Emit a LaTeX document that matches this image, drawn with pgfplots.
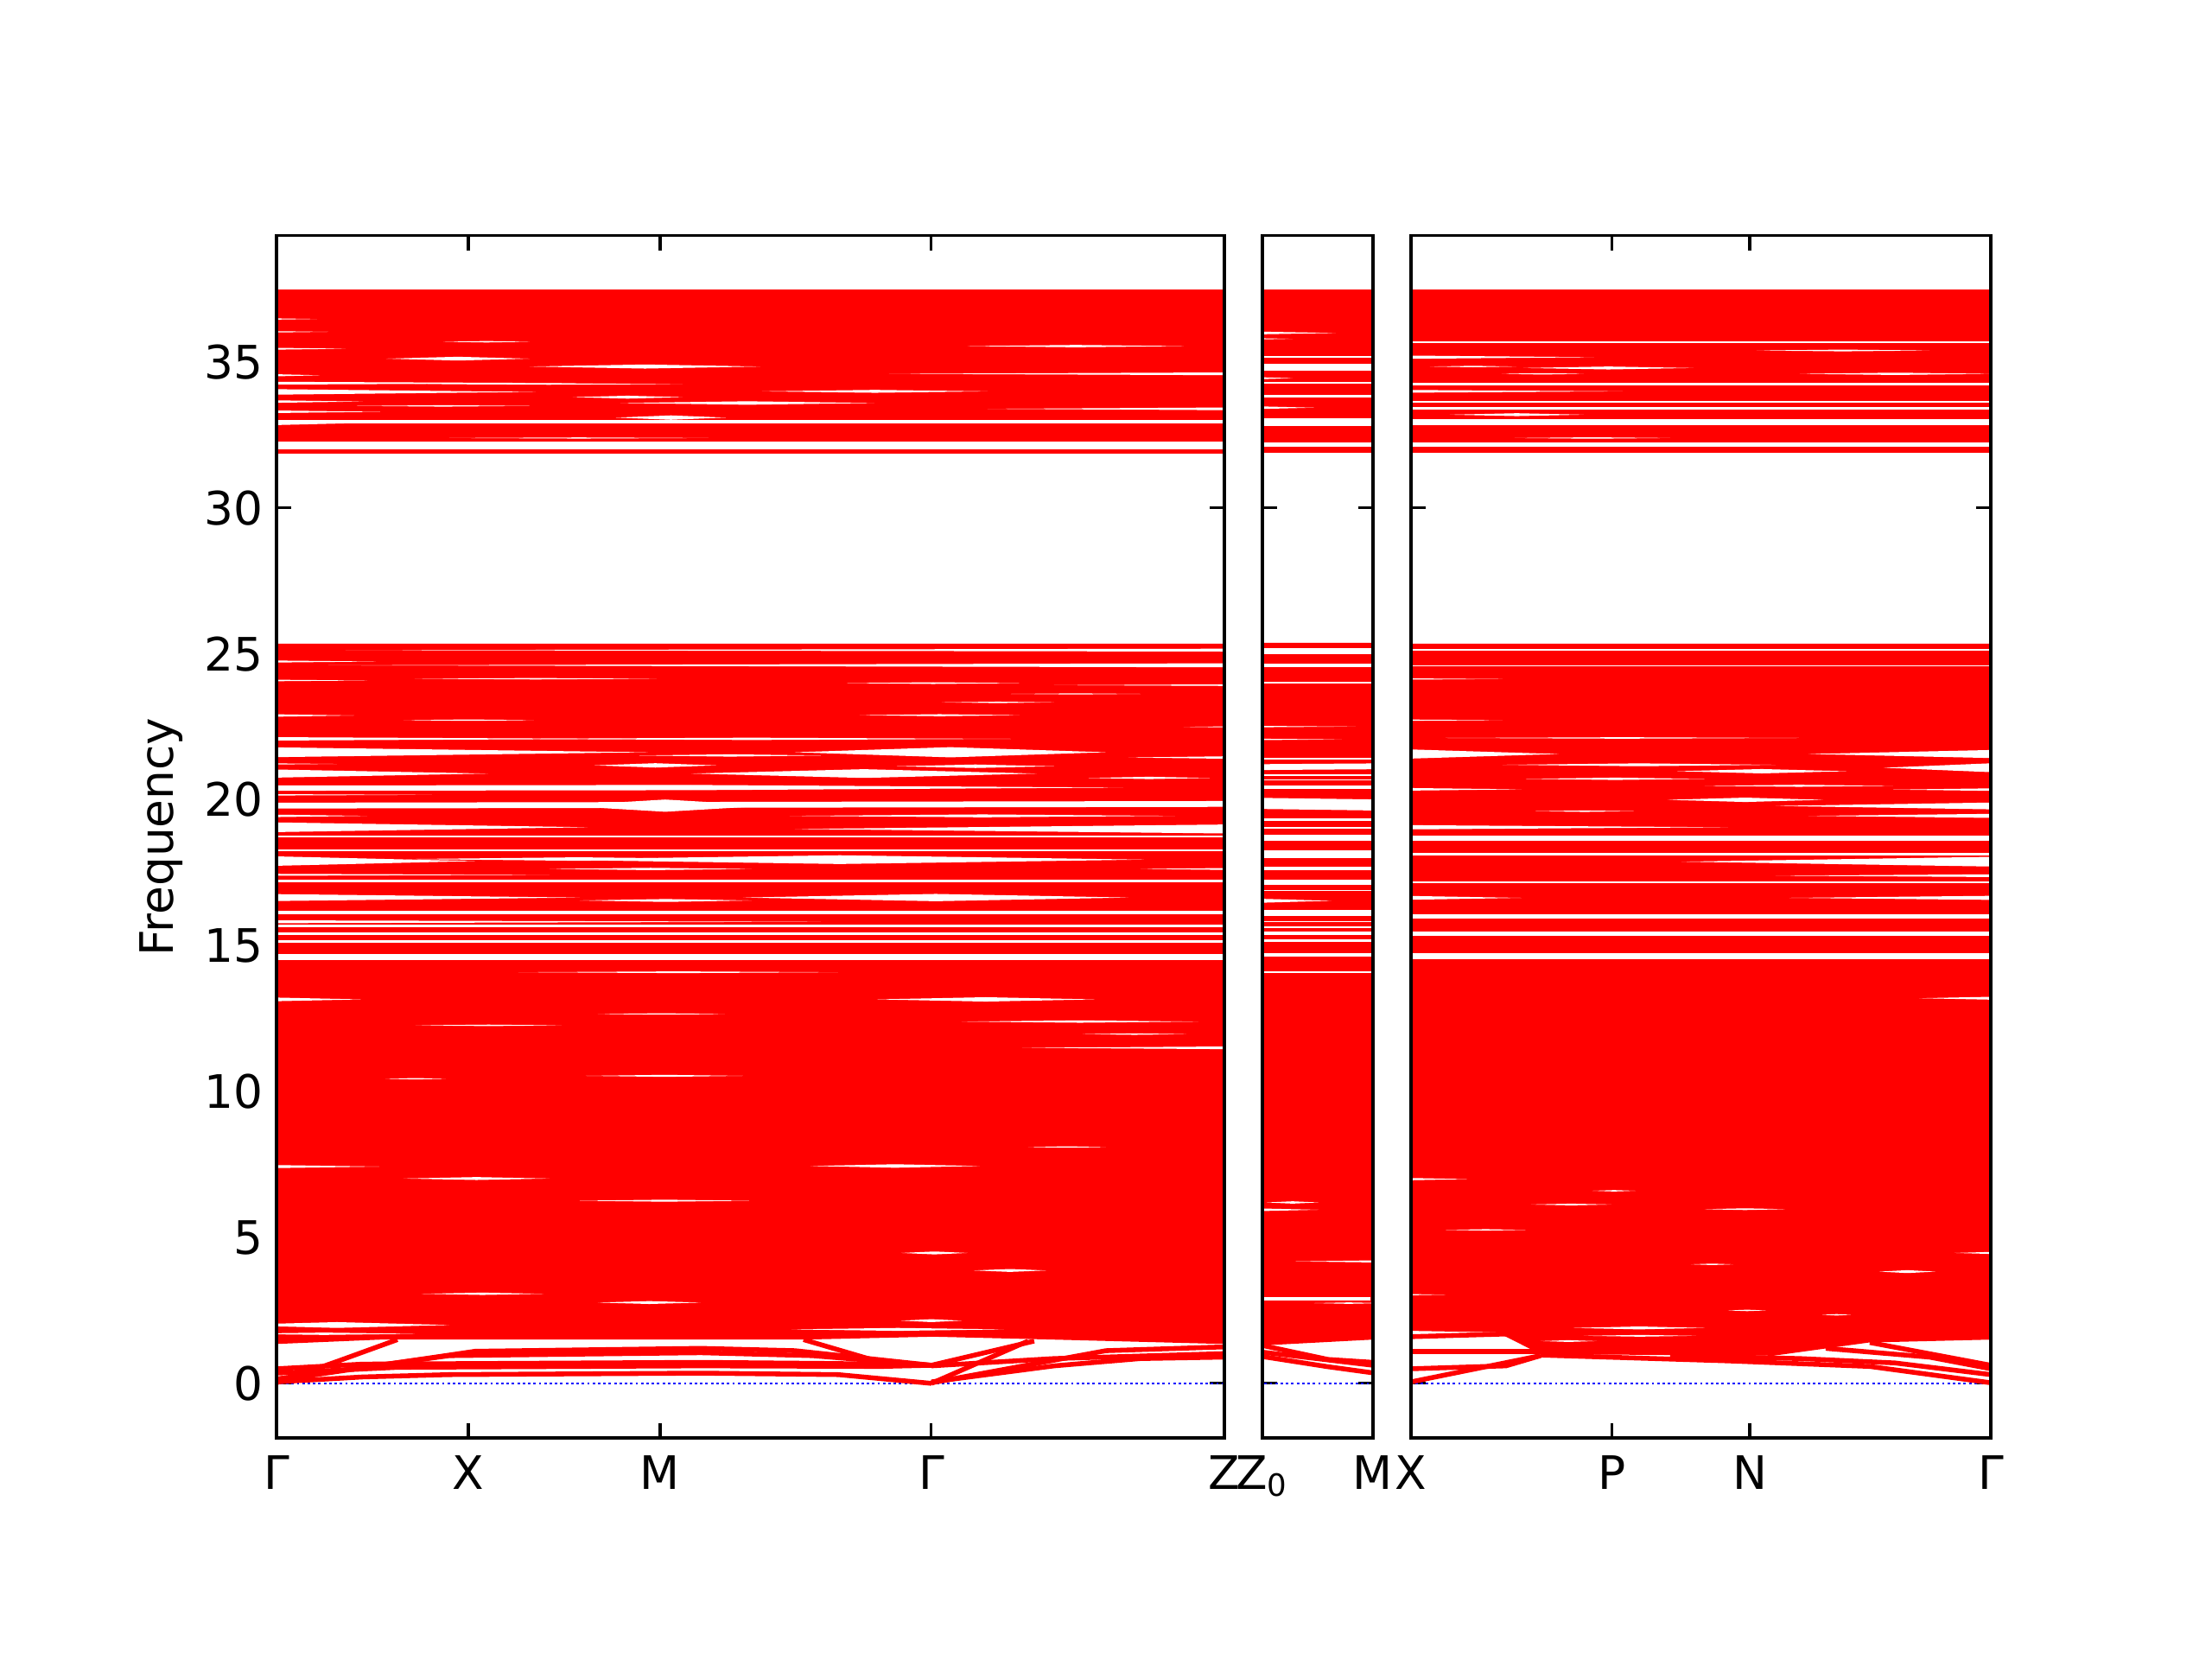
\documentclass[border=0pt]{standalone}
\usepackage{fontspec}
\setmainfont{DejaVu Sans}
\usepackage{pgfplots}
\pgfplotsset{compat=1.18}

% lens shaped white gap between bundles of bands: x from #1 to #2, at f=#3, widest #4
\newcommand\bgap[4]{%
  \pgfmathsetmacro\gxm{(#1+#2)/2}%
  \pgfmathsetmacro\gfl{#3-#4/2}%
  \pgfmathsetmacro\gfh{#3+#4/2}%
  \edef\tmp{\noexpand\addplot[gapfill] coordinates {(#1,#3) (\gxm,\gfh) (#2,#3) (\gxm,\gfl)};}\tmp}
% gap open at x=#1 (width #4), closing at x=#2
\newcommand\tgap[4]{%
  \pgfmathsetmacro\gfl{#3-#4/2}%
  \pgfmathsetmacro\gfh{#3+#4/2}%
  \edef\tmp{\noexpand\addplot[gapfill] coordinates {(#1,\gfl) (#2,#3) (#1,\gfh)};}\tmp}
% straight gap from (#1,#3) to (#2,#4), width #5
\newcommand\sgap[5]{%
  \pgfmathsetmacro\gfl{#3-#5/2}%
  \pgfmathsetmacro\gfh{#3+#5/2}%
  \pgfmathsetmacro\gfL{#4-#5/2}%
  \pgfmathsetmacro\gfH{#4+#5/2}%
  \edef\tmp{\noexpand\addplot[gapfill] coordinates {(#1,\gfl) (#2,\gfL) (#2,\gfH) (#1,\gfh)};}\tmp}

\pgfplotsset{
  bandpanel/.style={
    scale only axis, height=313pt, anchor=south west,
    ymin=-1.87, ymax=39.33, ytick={0,5,...,35},
    tick align=inside, major tick length=3.8pt,
    every tick/.style={black, line width=0.7pt},
    axis line style={line width=0.72pt},
    tick label style={font=\fontsize{12}{14}\selectfont},
    label style={font=\fontsize{12}{14}\selectfont},
    /pgf/number format/assume math mode=true,
    xticklabel style={yshift=-1.2pt},
  },
  blk/.style={fill=red, draw=none},
  gapfill/.style={fill=white, draw=none},
  bl/.style={red, line width=1.25pt, line join=round},
  zero/.style={blue, line width=0.6pt, dash pattern=on 0.65pt off 0.75pt},
}

\begin{document}
\begin{tikzpicture}
\path[use as bounding box] (0,0) rectangle (576pt,432pt);

% ---------------- Gamma - X - M - Gamma - Z
\begin{axis}[bandpanel, name=p1, at={(72pt,57.6pt)}, width=246.8pt,
  xmin=0, xmax=1097, xtick={0,222,444,758,1097}, xticklabels={Γ,X,M,Γ,Z},
  ylabel={Frequency}, ylabel style={at={(axis description cs:-0.122,0.5)}, anchor=center}]
\addplot[zero] coordinates {(-20,0) (1120,0)};
\addplot[blk] coordinates {(0,1.35) (120,1.5) (610,1.5) (760,1.6) (900,1.5) (1097,1.35) (1097,25.35) (0,25.35)};
\addplot[blk] coordinates {(0,31.86) (1097,31.86) (1097,37.49) (0,37.49)};
% low branches
\addplot[bl] coordinates {(0,0.02) (70,0.75) (140,1.5)};
\addplot[bl] coordinates {(0,0.05) (100,0.22) (200,0.3) (491,0.35) (650,0.3) (758,0.0)};
\addplot[bl] coordinates {(0,0.35) (140,0.55) (491,0.6) (700,0.58) (758,0.62)};
\addplot[bl] coordinates {(0,0.5) (100,0.66) (491,0.72) (650,0.68) (758,0.62)};
\addplot[bl] coordinates {(0,0.1) (230,1.1) (491,1.2) (600,1.12) (758,0.62)};
\addplot[bl] coordinates {(0,0.15) (200,0.95) (491,1.05) (620,0.95) (758,0.62)};
\addplot[bl] coordinates {(610,1.5) (702,0.7) (758,0.62)};
\addplot[bl] coordinates {(758,0.62) (877,1.45)};
\addplot[bl] coordinates {(758,0) (870,1.45)};
\addplot[bl] coordinates {(758,0.02) (960,1.12) (1097,1.25)};
\addplot[bl] coordinates {(758,0.05) (900,0.6) (1000,0.85) (1097,0.9)};
\addplot[bl] coordinates {(758,0.6) (900,0.85) (1097,1.02)};
% gaps, lower block
\bgap{-60}{200}{2.0}{0.2}
\bgap{-50}{160}{1.7}{0.08}
\bgap{596}{842}{1.85}{0.1}
\bgap{723}{793}{2.15}{0.1}
\bgap{372}{491}{2.77}{0.1}
\bgap{168}{309}{3.07}{0.08}
\bgap{807}{891}{3.87}{0.1}
\bgap{723}{800}{4.47}{0.1}
\bgap{351}{547}{6.26}{0.07}
\bgap{147}{316}{7.02}{0.1}
\tgap{-20}{119}{7.43}{0.12}
\bgap{618}{814}{7.45}{0.12}
\bgap{870}{960}{8.1}{0.05}
\bgap{126}{196}{10.44}{0.05}
\bgap{358}{540}{10.54}{0.07}
\tgap{1120}{863}{11.5}{0.1}
\bgap{933}{1053}{11.97}{0.05}
\bgap{161}{330}{12.27}{0.05}
\bgap{793}{1067}{12.4}{0.08}
\bgap{372}{519}{12.66}{0.05}
\tgap{-20}{98}{13.16}{0.15}
\bgap{695}{947}{13.16}{0.15}
\bgap{280}{650}{14.09}{0.06}
% gaps, middle block
\sgap{-20}{1120}{14.62}{14.62}{0.22}
\sgap{-20}{1120}{15.15}{15.15}{0.07}
\sgap{-20}{1120}{15.41}{15.41}{0.1}
\sgap{-20}{1120}{15.67}{15.67}{0.08}
\tgap{-20}{630}{15.82}{0.1}
\sgap{-20}{1120}{16.14}{16.14}{0.1}
\tgap{-20}{351}{16.65}{0.25}
\bgap{351}{550}{16.55}{0.1}
\bgap{540}{986}{16.65}{0.25}
\sgap{-20}{1120}{17.22}{17.22}{0.1}
\tgap{-20}{316}{17.43}{0.07}
\bgap{316}{550}{17.63}{0.08}
\tgap{1120}{1000}{17.63}{0.08}
\tgap{-20}{230}{17.9}{0.35}
\bgap{150}{550}{17.97}{0.12}
\bgap{300}{1004}{17.95}{0.3}
\sgap{-20}{1120}{18.27}{18.27}{0.07}
\sgap{-20}{1120}{18.74}{18.74}{0.06}
\tgap{-20}{360}{19.06}{0.35}
\tgap{1120}{600}{19.0}{0.32}
\tgap{-20}{105}{19.45}{0.1}
\bgap{594}{1040}{19.45}{0.1}
\sgap{-20}{1120}{19.80}{19.86}{0.2}
\bgap{330}{570}{19.8}{0.42}
\tgap{-20}{180}{20.17}{0.05}
\sgap{-20}{480}{20.40}{20.42}{0.18}
\tgap{480}{980}{20.42}{0.18}
\bgap{940}{1080}{20.75}{0.08}
\tgap{-20}{245}{20.9}{0.3}
\bgap{480}{880}{20.9}{0.3}
\tgap{-20}{70}{21.23}{0.05}
\bgap{368}{509}{21.18}{0.15}
\bgap{718}{900}{21.15}{0.12}
\tgap{1120}{986}{21.45}{0.1}
\tgap{-20}{430}{21.63}{0.35}
\bgap{420}{630}{21.52}{0.08}
\bgap{600}{960}{21.63}{0.35}
\tgap{-20}{400}{22.09}{0.12}
\bgap{250}{850}{22.09}{0.08}
\tgap{1120}{1050}{22.5}{0.05}
\bgap{147}{298}{22.73}{0.05}
\tgap{-20}{90}{22.89}{0.1}
\bgap{675}{860}{22.9}{0.07}
\bgap{770}{900}{23.34}{0.05}
\bgap{850}{1000}{23.63}{0.04}
\tgap{1120}{900}{23.93}{0.06}
\bgap{660}{860}{24.0}{0.06}
\tgap{-20}{105}{24.09}{0.06}
\bgap{160}{440}{24.15}{0.05}
\tgap{1120}{60}{24.61}{0.14}
\tgap{-20}{115}{24.74}{0.08}
\tgap{1120}{80}{25.13}{0.1}
% gaps, upper block
\sgap{-20}{1120}{32.15}{32.15}{0.25}
\bgap{200}{500}{32.4}{0.04}
\sgap{-20}{1120}{32.95}{32.95}{0.12}
\tgap{-20}{120}{32.93}{0.2}
\bgap{393}{520}{33.1}{0.15}
\tgap{-20}{120}{33.3}{0.1}
\tgap{1120}{823}{33.4}{0.1}
\bgap{93}{293}{33.5}{0.05}
\bgap{398}{692}{33.6}{0.12}
\tgap{-20}{100}{33.65}{0.1}
\bgap{343}{470}{33.8}{0.1}
\tgap{-20}{300}{33.98}{0.2}
\bgap{562}{823}{34.0}{0.1}
\bgap{160}{470}{34.25}{0.05}
\tgap{-20}{366}{34.28}{0.1}
\tgap{-20}{50}{34.55}{0.1}
\tgap{1120}{709}{34.6}{0.1}
\bgap{293}{560}{34.85}{0.14}
\bgap{127}{293}{35.12}{0.13}
\tgap{-20}{80}{35.46}{0.08}
\bgap{800}{1050}{35.55}{0.08}
\bgap{193}{293}{35.7}{0.05}
\tgap{-20}{60}{36.04}{0.06}
\tgap{-20}{47}{36.48}{0.06}
\end{axis}
\draw[line width=0.72pt] (p1.south west) rectangle (p1.north east);

% ---------------- Z0 - M
\begin{axis}[bandpanel, name=p2, at={(328.7pt,57.6pt)}, width=28.8pt,
  xmin=0, xmax=128, xtick={0,128}, xticklabels={Z\textsubscript{0},M}, yticklabels={}]
\addplot[zero] coordinates {(-10,0) (140,0)};
\addplot[blk] coordinates {(0,1.3) (128,1.5) (128,25.38) (0,25.38)};
\addplot[blk] coordinates {(0,31.9) (128,31.9) (128,37.49) (0,37.49)};
\addplot[bl] coordinates {(0,1.3) (76,0.82) (128,0.72)};
\addplot[bl] coordinates {(0,1.07) (128,0.62)};
\addplot[bl] coordinates {(0,0.92) (76,0.57) (128,0.36)};
% lower block
\bgap{60}{140}{2.75}{0.05}
\sgap{-10}{125}{2.9}{2.9}{0.12}
\tgap{140}{38}{4.18}{0.08}
\tgap{-10}{65}{5.95}{0.1}
\bgap{5}{65}{6.2}{0.08}
% middle block
\sgap{-10}{140}{14.09}{14.09}{0.04}
\sgap{-10}{140}{14.69}{14.69}{0.12}
\sgap{-10}{140}{15.18}{15.18}{0.1}
\sgap{-10}{140}{15.43}{15.43}{0.1}
\sgap{-10}{140}{15.63}{15.63}{0.04}
\sgap{-10}{140}{15.82}{15.82}{0.04}
\sgap{-10}{140}{16.12}{16.12}{0.2}
\tgap{-10}{80}{16.54}{0.15}
\sgap{-10}{140}{16.89}{16.89}{0.04}
\sgap{-10}{140}{17.17}{17.17}{0.17}
\sgap{-10}{140}{17.65}{17.65}{0.1}
\sgap{-10}{140}{18.14}{18.14}{0.28}
\sgap{-10}{140}{18.69}{18.69}{0.2}
\sgap{-10}{140}{19.04}{19.04}{0.04}
\sgap{-10}{140}{19.33}{19.33}{0.1}
\sgap{-10}{140}{19.88}{19.82}{0.38}
\sgap{-10}{140}{20.44}{20.44}{0.13}
\sgap{-10}{140}{20.68}{20.68}{0.05}
\sgap{-10}{140}{20.85}{20.85}{0.04}
\sgap{-10}{140}{21.12}{21.15}{0.2}
\sgap{-10}{140}{21.41}{21.41}{0.08}
\tgap{-10}{92}{22.07}{0.05}
\tgap{-10}{108}{22.51}{0.05}
\sgap{-10}{140}{24.01}{24.01}{0.04}
\sgap{-10}{140}{24.61}{24.61}{0.1}
\sgap{-10}{140}{25.10}{25.10}{0.22}
% upper block
\sgap{-10}{140}{32.18}{32.18}{0.15}
\sgap{-10}{140}{32.95}{32.95}{0.25}
\tgap{-10}{60}{33.44}{0.1}
\sgap{-10}{140}{33.84}{33.84}{0.1}
\sgap{-10}{140}{34.29}{34.29}{0.07}
\tgap{-10}{35}{34.45}{0.08}
\sgap{-10}{140}{34.82}{34.82}{0.22}
\sgap{-10}{140}{35.18}{35.18}{0.07}
\tgap{-10}{35}{35.8}{0.05}
\tgap{-10}{85}{36.0}{0.1}
\end{axis}
\draw[line width=0.72pt] (p2.south west) rectangle (p2.north east);

% ---------------- X - P - N - Gamma
\begin{axis}[bandpanel, name=p3, at={(367.4pt,57.6pt)}, width=151pt,
  xmin=0, xmax=671, xtick={0,233,392,671}, xticklabels={X,P,N,Γ}, yticklabels={}]
\addplot[zero] coordinates {(-20,0) (690,0)};
\addplot[blk] coordinates {(0,1.8) (100,1.75) (150,1.0) (420,0.95) (530,1.4) (671,1.5) (671,25.35) (0,25.35)};
\addplot[blk] coordinates {(0,31.88) (671,31.88) (671,37.49) (0,37.49)};
\addplot[bl] coordinates {(0,0.05) (150,0.95)};
\addplot[bl] coordinates {(0,0.5) (110,0.6) (150,0.95)};
\addplot[bl] coordinates {(0,1.1) (80,1.1) (150,1.1)};
\addplot[bl] coordinates {(0,1.6) (120,1.7)};
\addplot[bl] coordinates {(150,0.97) (368,0.77) (531,0.58) (671,0.02)};
\addplot[bl] coordinates {(300,0.95) (450,0.85) (560,0.7) (671,0.3)};
\addplot[bl] coordinates {(480,1.2) (600,0.9) (671,0.5)};
\addplot[bl] coordinates {(531,1.4) (671,0.62)};
% lower block
\bgap{150}{215}{1.45}{0.06}
\bgap{200}{330}{1.63}{0.06}
\bgap{188}{340}{1.9}{0.1}
\bgap{476}{509}{2.35}{0.05}
\bgap{367}{411}{2.5}{0.05}
\tgap{-20}{40}{3.04}{0.06}
\bgap{542}{607}{3.83}{0.1}
\bgap{324}{373}{4.08}{0.05}
\tgap{690}{629}{4.47}{0.1}
\bgap{40}{133}{5.26}{0.05}
\bgap{340}{433}{5.97}{0.06}
\bgap{139}{232}{6.13}{0.06}
\bgap{210}{260}{6.6}{0.05}
\tgap{-20}{65}{7.0}{0.1}
\tgap{690}{588}{13.2}{0.12}
% middle block
\sgap{-20}{690}{14.64}{14.64}{0.2}
\sgap{-20}{690}{15.41}{15.41}{0.15}
\sgap{-20}{690}{16.0}{16.0}{0.15}
\tgap{-20}{128}{16.64}{0.15}
\tgap{690}{438}{16.64}{0.15}
\sgap{-20}{690}{17.18}{17.18}{0.05}
\tgap{690}{422}{17.40}{0.1}
\tgap{690}{313}{17.88}{0.35}
\sgap{-20}{690}{18.14}{18.14}{0.1}
\sgap{-20}{690}{18.69}{18.69}{0.18}
\tgap{-20}{367}{19.06}{0.15}
\tgap{690}{460}{19.45}{0.15}
\bgap{144}{258}{19.61}{0.05}
\tgap{690}{422}{19.79}{0.25}
\bgap{297}{477}{20.0}{0.15}
\tgap{690}{558}{20.35}{0.1}
\tgap{-20}{128}{20.36}{0.1}
\bgap{340}{558}{20.48}{0.07}
\bgap{133}{340}{20.72}{0.08}
\bgap{308}{504}{20.98}{0.15}
\tgap{690}{547}{21.1}{0.35}
\bgap{106}{422}{21.20}{0.1}
\tgap{-20}{171}{21.57}{0.35}
\tgap{690}{460}{21.57}{0.3}
\bgap{40}{449}{22.12}{0.05}
\tgap{-20}{106}{22.73}{0.05}
\tgap{-20}{106}{24.14}{0.05}
\sgap{-20}{690}{24.59}{24.59}{0.05}
\sgap{-20}{690}{25.15}{25.15}{0.05}
% upper block
\sgap{-20}{690}{32.18}{32.18}{0.15}
\bgap{120}{300}{32.4}{0.05}
\sgap{-20}{690}{32.95}{32.95}{0.2}
\bgap{45}{200}{33.2}{0.1}
\sgap{-20}{690}{33.41}{33.41}{0.08}
\sgap{-20}{690}{33.65}{33.65}{0.05}
\tgap{-20}{245}{34.0}{0.1}
\sgap{-20}{690}{34.25}{34.25}{0.1}
\bgap{105}{200}{34.6}{0.05}
\bgap{450}{671}{34.6}{0.08}
\bgap{130}{327}{34.8}{0.1}
\bgap{22}{122}{34.85}{0.05}
\tgap{-20}{212}{35.17}{0.12}
\bgap{400}{600}{35.4}{0.06}
\sgap{-20}{690}{35.69}{35.69}{0.05}
\end{axis}
\draw[line width=0.72pt] (p3.south west) rectangle (p3.north east);
\end{tikzpicture}
\end{document}
